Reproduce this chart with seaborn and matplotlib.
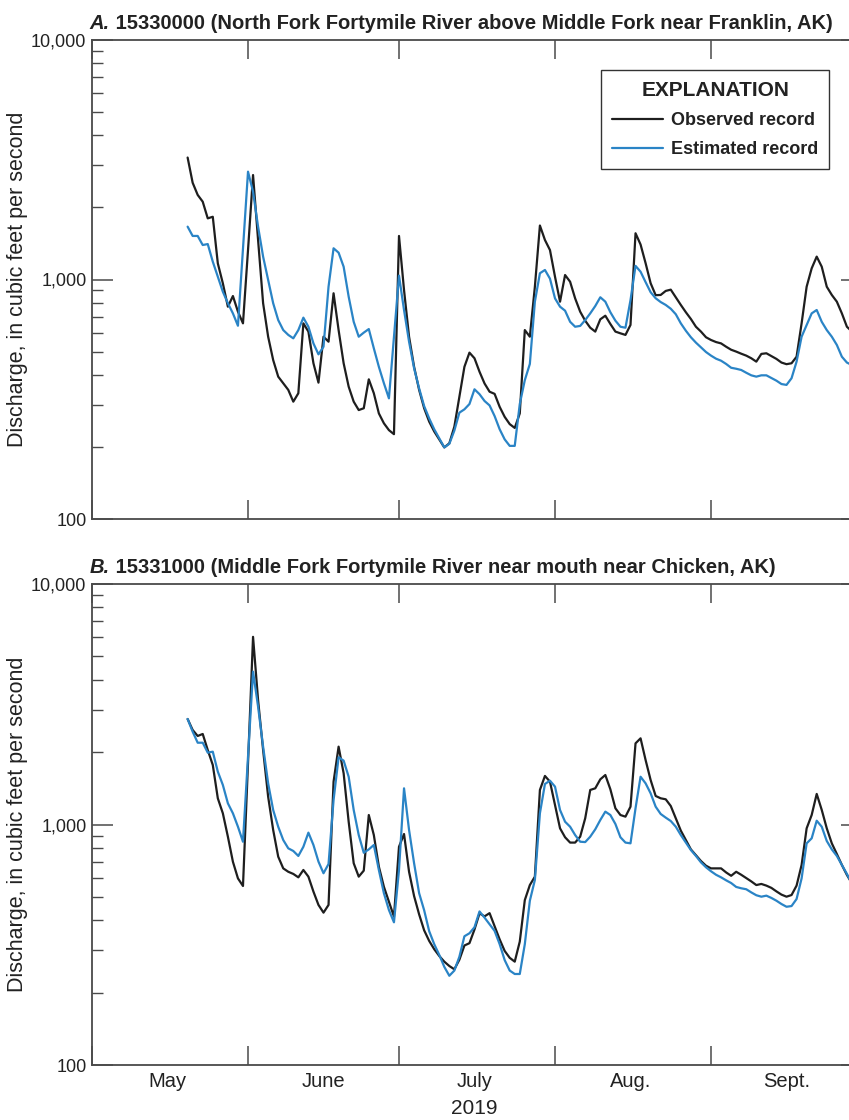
import numpy as np
import pandas as pd
import matplotlib
matplotlib.use("Agg")
import matplotlib.pyplot as plt
import matplotlib.dates as mdates
import matplotlib.ticker as mticker
import seaborn as sns

# ---------------- data (daily mean discharge, ft3/s) ----------------
start_date = "2019-05-20"
end_date = "2019-09-30"

obs_a = [3230, 2535, 2255, 2113, 1800, 1828, 1168, 964, 770, 853,
         734, 656, 1327, 2730, 1462, 796, 577, 461, 393, 369,
         346, 309, 335, 656, 606, 447, 371, 577, 550, 876,
         615, 447, 357, 309, 285, 290, 383, 335, 276, 251,
         235, 226, 1520, 904, 577, 432, 346, 290, 255, 232,
         215, 199, 207, 243, 324, 432, 495, 469, 412, 368,
         340, 333, 294, 267, 249, 240, 276, 615, 577, 933,
         1680, 1462, 1327, 1027, 808, 1044, 979, 834, 734, 673,
         629, 606, 682, 706, 652, 606, 596, 587, 646, 1560,
         1400, 1170, 965, 860, 862, 896, 907, 843, 783, 730,
         684, 635, 606, 574, 559, 548, 541, 524, 509, 500,
         490, 481, 469, 454, 489, 492, 479, 466, 450, 443,
         447, 476, 656, 933, 1113, 1246, 1131, 933, 862, 808,
         722, 635, 606, 577]

est_a = [1662, 1520, 1520, 1393, 1406, 1187, 1027, 889, 796, 722,
         641, 1345, 2820, 2326, 1662, 1246, 995, 796, 677, 615,
         587, 568, 615, 693, 635, 541, 487, 524, 933, 1350,
         1294, 1131, 848, 666, 577, 600, 621, 516, 432, 369,
         319, 577, 1038, 746, 550, 426, 351, 296, 263, 237,
         217, 199, 206, 234, 278, 287, 302, 348, 332, 311,
         298, 269, 237, 215, 202, 202, 302, 380, 444, 808,
         1062, 1096, 1008, 834, 770, 741, 666, 635, 640, 677,
         722, 775, 843, 808, 730, 673, 635, 629, 820, 1140,
         1078, 975, 885, 835, 805, 783, 755, 716, 656, 611,
         574, 545, 521, 498, 481, 467, 458, 444, 428, 424,
         419, 408, 398, 393, 398, 398, 388, 378, 366, 363,
         387, 454, 577, 646, 722, 746, 666, 615, 577, 533,
         476, 450, 439, 426]

obs_b = [2746, 2472, 2334, 2379, 2040, 1768, 1285, 1113, 890, 700,
         597, 555, 1800, 6030, 3293, 2040, 1305, 949, 735, 657,
         636, 623, 603, 647, 607, 526, 463, 430, 463, 1507,
         2107, 1633, 1027, 690, 607, 643, 1095, 904, 668, 551,
         478, 414, 808, 913, 636, 504, 423, 363, 328, 303,
         284, 269, 258, 250, 274, 314, 321, 366, 427, 415,
         428, 378, 333, 298, 279, 269, 326, 485, 560, 607,
         1392, 1592, 1507, 1205, 964, 885, 841, 841, 890, 1061,
         1392, 1414, 1541, 1606, 1401, 1168, 1095, 1078, 1186, 2175,
         2282, 1854, 1531, 1314, 1285, 1273, 1194, 1061, 943, 862,
         788, 745, 705, 674, 657, 657, 657, 632, 612, 636,
         618, 599, 580, 560, 566, 557, 545, 527, 511, 501,
         509, 557, 679, 964, 1095, 1340, 1150, 964, 835, 754,
         679, 617, 569, 534]

est_b = [2746, 2432, 2188, 2188, 1989, 2008, 1659, 1460, 1225, 1113,
         979, 848, 1900, 4320, 3090, 2107, 1483, 1149, 979, 862,
         796, 776, 740, 808, 925, 822, 701, 627, 685, 1264,
         1903, 1843, 1580, 1149, 904, 763, 788, 822, 647, 518,
         441, 392, 647, 1414, 949, 690, 518, 440, 360, 318,
         287, 256, 235, 247, 282, 343, 353, 374, 435, 410,
         385, 361, 318, 273, 247, 239, 239, 318, 482, 588,
         1113, 1474, 1521, 1437, 1149, 1027, 979, 904, 848, 845,
         890, 955, 1044, 1131, 1095, 1005, 885, 841, 835, 1168,
         1580, 1483, 1348, 1186, 1106, 1068, 1034, 979, 904, 841,
         783, 740, 696, 664, 639, 618, 603, 586, 571, 550,
         543, 538, 522, 508, 501, 506, 495, 482, 467, 455,
         458, 490, 597, 835, 876, 1037, 979, 854, 788, 740,
         679, 623, 569, 526]

series_names = ["Observed record", "Estimated record"]
panel_letters = ["A.", "B."]
panel_titles = [" 15330000 (North Fork Fortymile River above Middle Fork near Franklin, AK)",
                " 15331000 (Middle Fork Fortymile River near mouth near Chicken, AK)"]
month_names = {5: "May", 6: "June", 7: "July", 8: "Aug.", 9: "Sept."}
year_label = "2019"
y_label = "Discharge, in cubic feet per second"
legend_title = "EXPLANATION"

# ---------------- styling ----------------
sns.set_theme(style="ticks")
FONT = ["Liberation Sans Narrow", "Liberation Sans", "DejaVu Sans"]
plt.rcParams["font.family"] = FONT
plt.rcParams["axes.unicode_minus"] = False

OBS_COLOR = "#1e1e1e"
EST_COLOR = "#2a84c6"
SPINE_COLOR = "#4a4a4a"
TEXT_COLOR = "#222222"

W, H = 849, 1120
fig = plt.figure(figsize=(W / 100, H / 100), dpi=100)

dates = pd.date_range(start_date, end_date, freq="D")


def make_frame(obs, est):
    return pd.DataFrame({
        "date": np.concatenate([dates, dates]),
        "discharge": np.array(obs + est, dtype=float),
        "record": [series_names[0]] * len(obs) + [series_names[1]] * len(est),
    })


frames = [make_frame(obs_a, est_a), make_frame(obs_b, est_b)]

# axes boxes in pixel coordinates: (left, top, right, bottom)
boxes = [(92, 40, 862, 519), (92, 584, 862, 1065)]
axes = []
for i, (l, t, r, b) in enumerate(boxes):
    ax = fig.add_axes([l / W, 1 - b / H, (r - l) / W, (b - t) / H])
    axes.append(ax)
    sns.lineplot(data=frames[i], x="date", y="discharge", hue="record",
                 hue_order=series_names,
                 palette={series_names[0]: OBS_COLOR, series_names[1]: EST_COLOR},
                 linewidth=1.6, ax=ax, legend=(i == 0))

    ax.set_yscale("log")
    ax.set_ylim(100, 10000)
    ax.set_xlim(pd.Timestamp("2019-05-01"), pd.Timestamp("2019-10-01"))
    ax.set_xlabel("")
    ax.set_ylabel("")

    # y ticks
    ax.yaxis.set_major_locator(mticker.FixedLocator([100, 1000, 10000]))
    ax.yaxis.set_major_formatter(mticker.FuncFormatter(lambda v, p: f"{v:,.0f}"))
    ax.yaxis.set_minor_locator(mticker.LogLocator(base=10, subs=np.arange(2, 10), numticks=20))
    ax.yaxis.set_minor_formatter(mticker.NullFormatter())

    # x ticks: month boundaries (major), month names mid-month (minor)
    ax.xaxis.set_major_locator(mdates.MonthLocator())
    ax.xaxis.set_major_formatter(mticker.NullFormatter())
    ax.xaxis.set_minor_locator(mdates.MonthLocator(bymonthday=16))
    if i == 1:
        ax.xaxis.set_minor_formatter(
            mticker.FuncFormatter(lambda v, p: month_names.get(mdates.num2date(v).month, "")))
    else:
        ax.xaxis.set_minor_formatter(mticker.NullFormatter())

    ax.tick_params(axis="x", which="major", direction="in", length=14, width=1.1,
                   top=True, bottom=True, color=SPINE_COLOR)
    ax.tick_params(axis="x", which="minor", length=0, pad=5, labelsize=14.5,
                   labelcolor=TEXT_COLOR, top=False)
    ax.tick_params(axis="y", which="major", direction="in", length=15, width=1.1,
                   left=True, right=True, color=SPINE_COLOR, labelsize=13,
                   labelcolor=TEXT_COLOR, pad=4)
    ax.tick_params(axis="y", which="minor", direction="in", length=8, width=1.0,
                   left=True, right=True, color=SPINE_COLOR)
    for s in ax.spines.values():
        s.set_color(SPINE_COLOR)
        s.set_linewidth(1.3)
    ax.grid(False)

    # title: bold italic letter followed by bold text
    t1 = ax.text(-0.003, 1.014, panel_letters[i], transform=ax.transAxes,
                 fontsize=14.5, fontweight="bold", fontstyle="italic",
                 color=TEXT_COLOR, ha="left", va="bottom")
    ax.annotate(panel_titles[i], xy=(1, 0), xycoords=t1, ha="left", va="bottom",
                fontsize=14.5, fontweight="bold", color=TEXT_COLOR)

    # y-axis label
    fig.text(18 / W, 1 - ((t + b) / 2) / H, y_label, rotation=90, ha="center",
             va="center", fontsize=15.5, color=TEXT_COLOR)

# legend in panel A
axA = axes[0]
leg = axA.legend(title=legend_title, loc="upper right", bbox_to_anchor=(0.957, 0.937),
                 borderaxespad=0, frameon=True, fancybox=False, framealpha=1,
                 edgecolor="#333333", handlelength=2.8, handletextpad=0.45,
                 borderpad=0.6, labelspacing=0.67,
                 prop={"weight": "bold", "size": 13, "family": FONT},
                 title_fontproperties={"weight": "bold", "size": 15, "family": FONT})
leg.get_frame().set_linewidth(1.0)
for txt in leg.get_texts():
    txt.set_color(TEXT_COLOR)
leg.get_title().set_color(TEXT_COLOR)
for line in leg.get_lines():
    line.set_linewidth(1.6)

# year label
fig.text(474 / W, 1 - 1109 / H, year_label, ha="center", va="center",
         fontsize=15, color=TEXT_COLOR)

fig.savefig("out.png", dpi=100)
